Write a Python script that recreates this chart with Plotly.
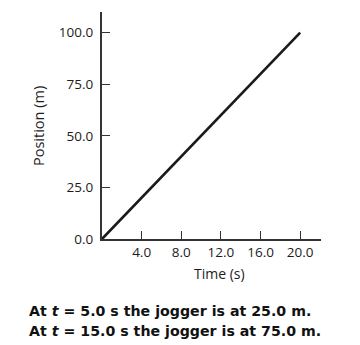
import plotly.graph_objects as go

# Jogger position over time (constant velocity)
time_s = [0.0, 5.0, 10.0, 15.0, 20.0]
position_m = [0.0, 25.0, 50.0, 75.0, 100.0]

x_ticks = [4.0, 8.0, 12.0, 16.0, 20.0]
y_ticks = [0.0, 25.0, 50.0, 75.0, 100.0]

captions = [
    "At <i>t</i> = 5.0 s the jogger is at 25.0 m.",
    "At <i>t</i> = 15.0 s the jogger is at 75.0 m.",
]

W, H = 360, 345
L, R, T, B = 102, 39, 12, 106

fig = go.Figure()
fig.add_trace(go.Scatter(
    x=time_s, y=position_m, mode="lines",
    line=dict(color="#1a1a1a", width=2.6),
    hoverinfo="skip", showlegend=False,
))

tick_font = dict(family="Open Sans", size=13.5, color="#1c1c1c")
axis_common = dict(
    showgrid=False, zeroline=False, showline=True,
    linecolor="#333333", linewidth=2.2,
    ticks="inside", ticklen=8, tickwidth=1.4, tickcolor="#333333",
    tickfont=tick_font, tickformat=".1f",
)

fig.update_layout(
    width=W, height=H,
    margin=dict(l=L, r=R, t=T, b=B),
    plot_bgcolor="white", paper_bgcolor="white",
    xaxis=dict(range=[0, 22.1], tickvals=x_ticks, ticklabelstandoff=0, **axis_common),
    yaxis=dict(range=[0, 110], tickvals=y_ticks, ticklabelstandoff=4, **axis_common),
)

ph = H - T - B
pw = W - L - R

def px_to_paper_y(py):
    return (H - B - py) / ph

def px_to_paper_x(px):
    return (px - L) / pw

fig.add_annotation(
    text="Time (s)", xref="paper", yref="paper",
    x=px_to_paper_x(219), y=px_to_paper_y(273),
    showarrow=False, font=dict(family="Open Sans", size=14, color="#1c1c1c"),
    xanchor="center", yanchor="middle",
)
fig.add_annotation(
    text="Position (m)", xref="paper", yref="paper",
    x=px_to_paper_x(38), y=px_to_paper_y(126), textangle=-90,
    showarrow=False, font=dict(family="Open Sans", size=14.5, color="#1c1c1c"),
    xanchor="center", yanchor="middle",
)
for i, cap in enumerate(captions):
    fig.add_annotation(
        text="<b>" + cap + "</b>", xref="paper", yref="paper",
        x=px_to_paper_x(27), y=px_to_paper_y(311 + 20 * i),
        showarrow=False, font=dict(family="DejaVu Sans", size=14.2, color="#111111"),
        xanchor="left", yanchor="middle", align="left",
    )

fig.write_html("out.html")
